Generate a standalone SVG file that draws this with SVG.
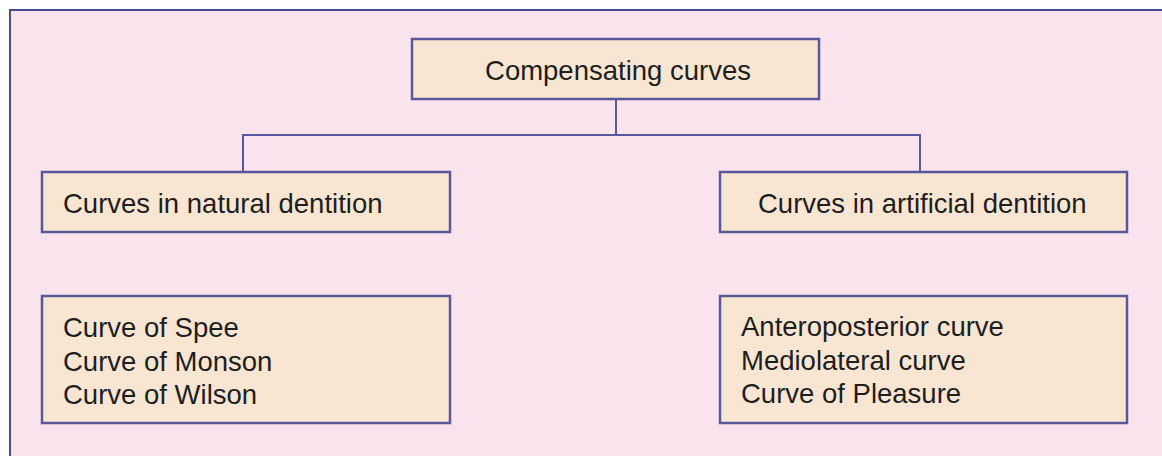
<svg xmlns="http://www.w3.org/2000/svg" width="1162" height="456" viewBox="0 0 1162 456">
<style>
.node{fill:#f8e6d3;stroke:#58589a;stroke-width:2.5}
.t{font-family:"Liberation Sans",Arial,sans-serif;font-size:27.5px;fill:#1e1e1e}
.c{fill:none;stroke:#58589a;stroke-width:2}
</style>
<rect x="0" y="0" width="1162" height="456" fill="#ffffff"/>
<rect x="10" y="10" width="1170" height="470" fill="#f9e4ee" stroke="#4a4a90" stroke-width="2"/>
<g id="connectors">
<path class="c" d="M616 99 V135 M243 172 V135 H920 V172"/>
</g>
<g id="n-root">
<rect class="node" x="412" y="39" width="407" height="60"/>
<text class="t" x="618" y="80" text-anchor="middle">Compensating curves</text>
</g>
<g id="n-natural">
<rect class="node" x="42" y="172" width="408" height="60"/>
<text class="t" x="63" y="213">Curves in natural dentition</text>
</g>
<g id="n-artificial">
<rect class="node" x="720" y="172" width="407" height="60"/>
<text class="t" x="758" y="213">Curves in artificial dentition</text>
</g>
<g id="n-natural-list">
<rect class="node" x="42" y="296" width="408" height="127"/>
<text class="t" x="63" y="337">Curve of Spee</text>
<text class="t" x="63" y="371">Curve of Monson</text>
<text class="t" x="63" y="404">Curve of Wilson</text>
</g>
<g id="n-artificial-list">
<rect class="node" x="720" y="296" width="407" height="127"/>
<text class="t" x="741" y="336">Anteroposterior curve</text>
<text class="t" x="741" y="370">Mediolateral curve</text>
<text class="t" x="741" y="403">Curve of Pleasure</text>
</g>
</svg>
